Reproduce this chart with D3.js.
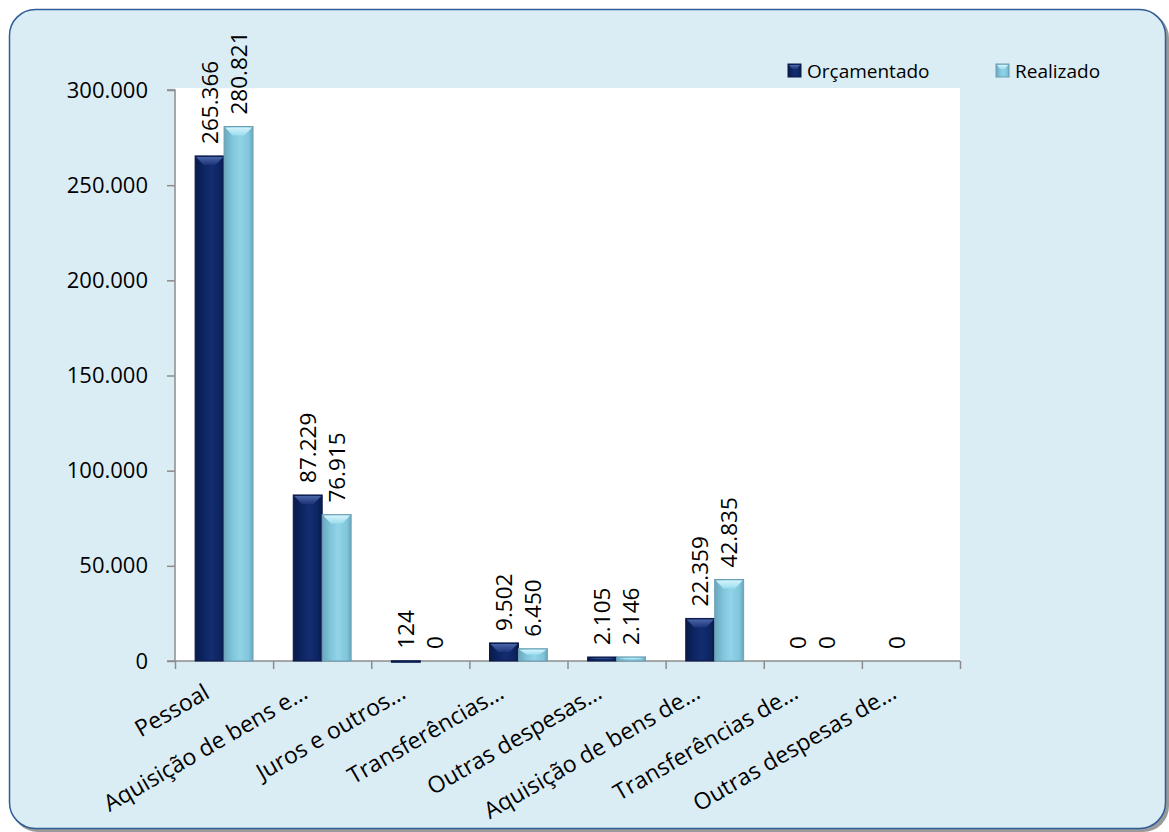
<!DOCTYPE html>
<html>
<head>
<meta charset="utf-8">
<script src="https://cdn.jsdelivr.net/npm/d3@7"></script>
<style>
  body { margin: 0; background: #fff; }
  svg { display: block; font-family: "Open Sans", sans-serif; }
</style>
</head>
<body>
<div id="chart"></div>
<script>
const categories = ["Pessoal", "Aquisição de bens e…", "Juros e outros…", "Transferências…",
  "Outras despesas…", "Aquisição de bens de…", "Transferências de…", "Outras despesas de…"];
const seriesNames = ["Orçamentado", "Realizado"];
const orcamentado = [265366, 87229, 124, 9502, 2105, 22359, 0, 0];
const realizado = [280821, 76915, 0, 6450, 2146, 42835, 0, null];
const yTicks = [0, 50000, 100000, 150000, 200000, 250000, 300000];

const W = 1169, H = 832;
const plot = {left: 175, right: 960, top: 88, bottom: 661};

const pt = d3.formatLocale({decimal: ",", thousands: ".", grouping: [3], currency: ["", ""]});
const fmt = pt.format(",.0f");

const svg = d3.select("#chart").append("svg")
  .attr("width", W).attr("height", H);

const defs = svg.append("defs");
function barGrad(id, edge, mid, light) {
  const g = defs.append("linearGradient").attr("id", id)
    .attr("x1", 0).attr("x2", 1).attr("y1", 0).attr("y2", 0);
  g.append("stop").attr("offset", "0%").attr("stop-color", edge);
  g.append("stop").attr("offset", "30%").attr("stop-color", mid);
  g.append("stop").attr("offset", "55%").attr("stop-color", light);
  g.append("stop").attr("offset", "85%").attr("stop-color", mid);
  g.append("stop").attr("offset", "100%").attr("stop-color", edge);
}
barGrad("g0", "#0a1a4a", "#0d2562", "#132d70");
barGrad("g1", "#6aa7bd", "#80c6dc", "#92d3e7");
function capGrad(id, top, bot) {
  const g = defs.append("linearGradient").attr("id", id)
    .attr("x1", 0).attr("x2", 0).attr("y1", 0).attr("y2", 1);
  g.append("stop").attr("offset", "0%").attr("stop-color", top);
  g.append("stop").attr("offset", "100%").attr("stop-color", bot);
}
capGrad("c0", "#4a66a8", "#1c3478");
capGrad("c1", "#d4f3fb", "#9adcee");

// frame
svg.append("rect").attr("x", 12).attr("y", 12).attr("width", 1157).attr("height", 820)
  .attr("rx", 26).attr("fill", "#9a9a9a");
svg.append("rect").attr("x", 9.5).attr("y", 9.5).attr("width", 1156).attr("height", 819)
  .attr("rx", 26).attr("fill", "#dbedf4").attr("stroke", "#2f5d97").attr("stroke-width", 1.5);

// plot area
svg.append("rect").attr("x", plot.left).attr("y", plot.top)
  .attr("width", plot.right - plot.left).attr("height", plot.bottom - plot.top)
  .attr("fill", "#fff");

const x = d3.scaleBand().domain(categories).range([plot.left, plot.right])
  .paddingInner(0.41).paddingOuter(0.205);
const x1 = d3.scaleBand().domain(seriesNames).range([0, x.bandwidth()]);
const y = d3.scaleLinear().domain([0, 300000]).range([plot.bottom, 90]);
const bounds = d3.scaleLinear().domain([0, categories.length]).range([plot.left, plot.right]);

// y axis
const yAxis = svg.append("g").attr("transform", `translate(${plot.left},0)`)
  .call(d3.axisLeft(y).tickValues(yTicks).tickSize(8).tickPadding(19).tickFormat(fmt))
  .attr("font-family", null).attr("font-size", null);
yAxis.select(".domain").attr("stroke", "#8c8c8c").attr("stroke-width", 1.5)
  .attr("d", `M-8,${y(300000)}H0V${plot.bottom}`);
yAxis.selectAll(".tick line").attr("stroke", "#8c8c8c").attr("stroke-width", 1.5);
yAxis.selectAll(".tick text").attr("fill", "#000").style("font-size", "22px");

// x axis (boundary ticks)
const xAxis = svg.append("g").attr("transform", `translate(0,${plot.bottom})`)
  .call(d3.axisBottom(bounds).ticks(categories.length).tickSize(8).tickFormat(""));
xAxis.select(".domain").attr("stroke", "#8c8c8c").attr("stroke-width", 1.5)
  .attr("d", `M${plot.left - 8},0H${plot.right}`);
xAxis.selectAll(".tick line").attr("stroke", "#8c8c8c").attr("stroke-width", 1.5);

// bars
const data = categories.map((c, i) => ({cat: c, vals: [orcamentado[i], realizado[i]]}));
const groups = svg.append("g").selectAll("g").data(data).join("g")
  .attr("transform", d => `translate(${x(d.cat)},0)`);

const items = groups.selectAll("g").data(d => d.vals.map((v, k) => ({v, k, s: seriesNames[k]})))
  .join("g");

items.filter(d => d.v !== null && d.v > 0).each(function(d) {
  const g = d3.select(this);
  const bx = x1(d.s), bw = x1.bandwidth();
  const top = y(d.v), h = plot.bottom - top;
  g.append("rect").attr("x", bx).attr("y", top).attr("width", bw).attr("height", Math.max(h, 1.5))
    .attr("fill", `url(#g${d.k})`)
    .attr("stroke", d.k === 0 ? "#0a1a48" : "#6c9fb2").attr("stroke-width", 1);
  const cap = Math.min(9, h * 0.5);
  if (cap > 2) {
    g.append("path")
      .attr("d", `M${bx + 1},${top + 1}H${bx + bw - 1}L${bx + bw * 0.7},${top + cap}H${bx + bw * 0.3}Z`)
      .attr("fill", `url(#c${d.k})`);
  }
});

// data labels
items.filter(d => d.v !== null).append("text")
  .attr("transform", d => `translate(${x1(d.s) + x1.bandwidth() / 2},${y(d.v) - 12}) rotate(-90)`)
  .attr("dy", "0.36em")
  .attr("text-anchor", "start")
  .style("font-size", "22.5px")
  .attr("fill", "#000")
  .text(d => fmt(d.v));

// category labels
svg.append("g").selectAll("text").data(categories).join("text")
  .attr("transform", d => `translate(${x(d) + x.bandwidth() / 2 - 13},${plot.bottom + 36}) rotate(-30)`)
  .attr("text-anchor", "end")
  .style("font-size", "23px")
  .attr("fill", "#000")
  .text(d => d);

// legend
const legend = svg.append("g");
const legendX = [788, 996];
seriesNames.forEach((s, k) => {
  const lg = legend.append("g").attr("transform", `translate(${legendX[k]},64)`);
  lg.append("rect").attr("width", 13).attr("height", 13)
    .attr("fill", `url(#g${k})`).attr("stroke", k === 0 ? "#0a1a48" : "#6c9fb2");
  lg.append("path").attr("d", "M1,1H12L9,5H4Z").attr("fill", `url(#c${k})`);
  lg.append("text").attr("x", 19).attr("y", 7).attr("dy", "0.35em")
    .style("font-size", "19px").attr("fill", "#000").text(s);
});
</script>
</body>
</html>
